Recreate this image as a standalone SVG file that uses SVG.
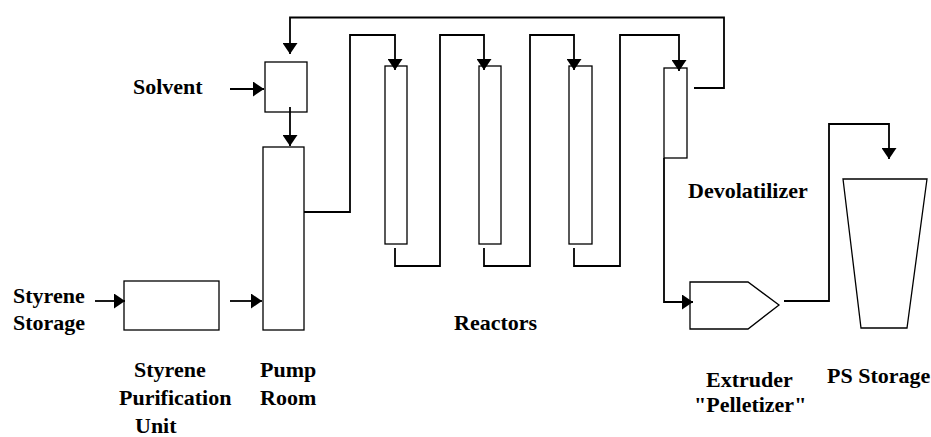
<svg xmlns="http://www.w3.org/2000/svg" width="931" height="437" viewBox="0 0 931 437">
<style>
.box{fill:none;stroke:#000;stroke-width:1.3}
.ln{fill:none;stroke:#000;stroke-width:1.8}
.ar{marker-end:url(#ah)}
.t{font-family:'Liberation Serif','DejaVu Serif',serif;font-weight:bold;font-size:22px;fill:#000}
</style>
<defs>
<marker id="ah" markerUnits="userSpaceOnUse" markerWidth="15" markerHeight="15" viewBox="0 0 11 15" refX="11" refY="7.5" orient="auto">
<path d="M0,0 L11,7.5 L0,15 Z" fill="#000"/>
</marker>
</defs>
<rect width="931" height="437" fill="#fff"/>
<g id="styrene-storage" class="t"><text x="13" y="303">Styrene</text><text x="13" y="330">Storage</text></g>
<g id="purification"><rect class="box" x="124" y="281" width="95" height="49"/><g class="t"><text x="134" y="377">Styrene</text><text x="119" y="405">Purification</text><text x="135" y="433">Unit</text></g></g>
<g id="solvent" class="t"><text x="133" y="94">Solvent</text></g>
<g id="solvent-box"><rect class="box" x="265" y="62" width="42" height="50"/></g>
<g id="pump-room"><rect class="box" x="263" y="147" width="41" height="183"/><g class="t"><text x="260" y="377">Pump</text><text x="260" y="405">Room</text></g></g>
<g id="reactor1"><rect class="box" x="385" y="66" width="22" height="178"/></g>
<g id="reactor2"><rect class="box" x="479" y="66" width="22" height="178"/></g>
<g id="reactor3"><rect class="box" x="569" y="66" width="23" height="178"/></g>
<g id="reactors-label" class="t"><text x="454" y="330">Reactors</text></g>
<g id="devolatilizer"><rect class="box" x="664" y="68" width="23" height="90"/><text class="t" x="688" y="198">Devolatilizer</text></g>
<g id="extruder"><polygon class="box" points="690,282 748,282 779,305 748,329 690,329"/><g class="t"><text x="706" y="387">Extruder</text><text x="694" y="412">"Pelletizer"</text></g></g>
<g id="ps-storage"><polygon class="box" points="843,179 927,179 907,328 861,328"/><text class="t" x="827" y="383">PS Storage</text></g>
<g id="connectors">
<path class="ln ar" d="M95,301 H125"/>
<path class="ln ar" d="M230,301 H262"/>
<path class="ln ar" d="M230,89 H264"/>
<path class="ln ar" d="M290,107 V146"/>
<path class="ln ar" d="M304,212 H350 V35 H395 V70"/>
<path class="ln ar" d="M395,248 V266 H440 V35 H484 V70"/>
<path class="ln ar" d="M484,248 V266 H530 V35 H574 V70"/>
<path class="ln ar" d="M574,248 V266 H620 V35 H679 V71"/>
<path class="ln ar" d="M694,88 H724 V17.5 H290 V54"/>
<path class="ln ar" d="M664,158 V302 H693"/>
<path class="ln ar" d="M784,301 H829 V124 H889 V159"/>
</g>
</svg>
